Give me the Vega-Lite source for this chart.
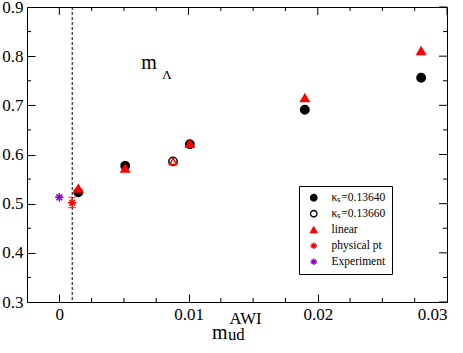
{
  "$schema": "https://vega.github.io/schema/vega-lite/v6.json",
  "width": 420,
  "height": 295,
  "autosize": {"type": "none"},
  "padding": {"left": 27, "top": 7, "right": 16, "bottom": 51},
  "background": "white",
  "config": {
    "view": {"stroke": "black", "strokeWidth": 1},
    "font": "Liberation Serif",
    "axis": {"grid": false, "domain": false, "labelFont": "Liberation Serif", "labelFontSize": 17, "labelColor": "black"}
  },
  "datasets": {
    "pts": [
      {"x": 0.00147, "y": 0.523, "series": "κₛ=0.13640"},
      {"x": 0.0051, "y": 0.577, "series": "κₛ=0.13640"},
      {"x": 0.0101, "y": 0.621, "series": "κₛ=0.13640"},
      {"x": 0.019, "y": 0.691, "series": "κₛ=0.13640"},
      {"x": 0.028, "y": 0.756, "series": "κₛ=0.13640"},
      {"x": 0.0088, "y": 0.586, "series": "κₛ=0.13660"},
      {"x": 0.00147, "y": 0.531, "series": "linear"},
      {"x": 0.0051, "y": 0.572, "series": "linear"},
      {"x": 0.0101, "y": 0.622, "series": "linear"},
      {"x": 0.019, "y": 0.715, "series": "linear"},
      {"x": 0.028, "y": 0.811, "series": "linear"},
      {"x": 0.001, "y": 0.502, "series": "physical pt"},
      {"x": 0.0, "y": 0.513, "series": "Experiment"}
    ],
    "phys": [{"x": 0.001, "lo": 0.492, "hi": 0.513}],
    "open": [{"x": 0.0088, "y": 0.586}],
    "xt": [
      {"v": 0, "e": 0.9, "e2": 0.88374}, {"v": 0.01, "e": 0.9, "e2": 0.88374}, {"v": 0.02, "e": 0.9, "e2": 0.88374}, {"v": 0.03, "e": 0.9, "e2": 0.88374},
      {"v": 0.0025, "e": 0.3, "e2": 0.30813}, {"v": 0.005, "e": 0.3, "e2": 0.30813}, {"v": 0.0075, "e": 0.3, "e2": 0.30813}, {"v": 0.0125, "e": 0.3, "e2": 0.30813}, {"v": 0.015, "e": 0.3, "e2": 0.30813}, {"v": 0.0175, "e": 0.3, "e2": 0.30813}, {"v": 0.0225, "e": 0.3, "e2": 0.30813}, {"v": 0.025, "e": 0.3, "e2": 0.30813}, {"v": 0.0275, "e": 0.3, "e2": 0.30813},
      {"v": 0.0025, "e": 0.9, "e2": 0.89187}, {"v": 0.005, "e": 0.9, "e2": 0.89187}, {"v": 0.0075, "e": 0.9, "e2": 0.89187}, {"v": 0.0125, "e": 0.9, "e2": 0.89187}, {"v": 0.015, "e": 0.9, "e2": 0.89187}, {"v": 0.0175, "e": 0.9, "e2": 0.89187}, {"v": 0.0225, "e": 0.9, "e2": 0.89187}, {"v": 0.025, "e": 0.9, "e2": 0.89187}, {"v": 0.0275, "e": 0.9, "e2": 0.89187}
    ],
    "yt": [
      {"v": 0.3, "e": 0.03, "e2": 0.029381}, {"v": 0.4, "e": 0.03, "e2": 0.029381}, {"v": 0.5, "e": 0.03, "e2": 0.029381}, {"v": 0.6, "e": 0.03, "e2": 0.029381}, {"v": 0.7, "e": 0.03, "e2": 0.029381}, {"v": 0.8, "e": 0.03, "e2": 0.029381}, {"v": 0.9, "e": 0.03, "e2": 0.029381},
      {"v": 0.35, "e": -0.0025, "e2": -0.00219}, {"v": 0.45, "e": -0.0025, "e2": -0.00219}, {"v": 0.55, "e": -0.0025, "e2": -0.00219}, {"v": 0.65, "e": -0.0025, "e2": -0.00219}, {"v": 0.75, "e": -0.0025, "e2": -0.00219}, {"v": 0.85, "e": -0.0025, "e2": -0.00219},
      {"v": 0.35, "e": 0.03, "e2": 0.02969}, {"v": 0.45, "e": 0.03, "e2": 0.02969}, {"v": 0.55, "e": 0.03, "e2": 0.02969}, {"v": 0.65, "e": 0.03, "e2": 0.02969}, {"v": 0.75, "e": 0.03, "e2": 0.02969}, {"v": 0.85, "e": 0.03, "e2": 0.02969}
    ],
    "ann": [
      {"x": 0.00634, "y": 0.7734, "t": "m", "size": "big"},
      {"x": 0.00794, "y": 0.753, "t": "Λ", "size": "small"},
      {"x": 0.01181, "y": 0.2246, "t": "m", "size": "big"},
      {"x": 0.01305, "y": 0.2222, "t": "ud", "size": "mid"},
      {"x": 0.01317, "y": 0.2545, "t": "AWI", "size": "mid"}
    ]
  },
  "resolve": {"axis": {"x": "independent", "y": "independent"}},
  "layer": [
    {
      "data": {"values": [{"x": 0.001}]},
      "mark": {"type": "rule", "strokeDash": [3, 2], "color": "black", "strokeWidth": 1},
      "encoding": {
        "x": {"field": "x", "type": "quantitative", "scale": {"domain": [-0.0025, 0.03], "nice": false, "zero": false}, "axis": null}
      }
    },
    {
      "data": {"name": "phys"},
      "mark": {"type": "errorbar", "ticks": {"size": 8}, "color": "red", "thickness": 1.2},
      "encoding": {
        "x": {"field": "x", "type": "quantitative", "scale": {"domain": [-0.0025, 0.03], "nice": false, "zero": false}, "axis": null},
        "y": {"field": "lo", "type": "quantitative", "scale": {"domain": [0.3, 0.9], "nice": false, "zero": false}, "axis": null},
        "y2": {"field": "hi"}
      }
    },
    {
      "data": {"name": "pts"},
      "mark": {"type": "point", "size": 70, "strokeWidth": 1.5, "opacity": 1},
      "encoding": {
        "x": {"field": "x", "type": "quantitative", "scale": {"domain": [-0.0025, 0.03], "nice": false, "zero": false},
              "axis": {"orient": "bottom", "title": null, "ticks": true, "tickSize": -8, "tickColor": "black", "tickWidth": 1, "values": [0, 0.01, 0.02, 0.03], "format": "~g", "labelPadding": 12, "labelFont": "Liberation Serif", "labelFontSize": 17, "labelColor": "black"}},
        "y": {"field": "y", "type": "quantitative", "scale": {"domain": [0.3, 0.9], "nice": false, "zero": false},
              "axis": {"orient": "left", "title": null, "ticks": true, "tickSize": -8, "tickColor": "black", "tickWidth": 1, "values": [0.3, 0.4, 0.5, 0.6, 0.7, 0.8, 0.9], "format": ".1f", "labelPadding": 12, "labelFont": "Liberation Serif", "labelFontSize": 17, "labelColor": "black"}},
        "shape": {"field": "series", "type": "nominal",
                  "scale": {"domain": ["κₛ=0.13640", "κₛ=0.13660", "linear", "physical pt", "Experiment"],
                            "range": ["circle", "circle", "triangle-up", "M0,-1L0,1M-1,0L1,0M-0.7,-0.7L0.7,0.7M-0.7,0.7L0.7,-0.7", "M0,-1L0,1M-1,0L1,0M-0.7,-0.7L0.7,0.7M-0.7,0.7L0.7,-0.7"]},
                  "legend": {"title": null, "orient": "none", "legendX": 272, "legendY": 179, "strokeColor": "black", "fillColor": "white", "padding": 6, "rowPadding": 3, "labelFont": "Liberation Serif", "labelFontSize": 11.5, "labelColor": "black", "symbolSize": 42, "symbolStrokeWidth": 1.3, "labelOffset": 12, "symbolOffset": 3, "cornerRadius": 0}},
        "fill": {"field": "series", "type": "nominal",
                 "scale": {"domain": ["κₛ=0.13640", "κₛ=0.13660", "linear", "physical pt", "Experiment"],
                           "range": ["black", "white", "red", "red", "#9400d3"]}},
        "stroke": {"field": "series", "type": "nominal",
                   "scale": {"domain": ["κₛ=0.13640", "κₛ=0.13660", "linear", "physical pt", "Experiment"],
                             "range": ["black", "black", "red", "red", "#9400d3"]}}
      }
    },
    {
      "data": {"name": "open"},
      "mark": {"type": "point", "shape": "triangle-up", "size": 50, "strokeWidth": 1.5, "stroke": "red", "fill": "white", "opacity": 1},
      "encoding": {
        "x": {"field": "x", "type": "quantitative", "scale": {"domain": [-0.0025, 0.03], "nice": false, "zero": false}, "axis": null},
        "y": {"field": "y", "type": "quantitative", "scale": {"domain": [0.3, 0.9], "nice": false, "zero": false}, "axis": null}
      }
    },
    {
      "data": {"name": "ann"},
      "mark": {"type": "text", "font": "Liberation Serif", "baseline": "alphabetic", "align": "left", "color": "black"},
      "encoding": {
        "x": {"field": "x", "type": "quantitative", "scale": {"domain": [-0.0025, 0.03], "nice": false, "zero": false}, "axis": null},
        "y": {"field": "y", "type": "quantitative", "scale": {"domain": [0.3, 0.9], "nice": false, "zero": false}, "axis": null},
        "text": {"field": "t"},
        "size": {"field": "size", "type": "nominal", "scale": {"domain": ["big", "mid", "small"], "range": [20, 13.5, 11]}, "legend": null}
      }
    },
    {
      "data": {"name": "xt"},
      "mark": {"type": "rule", "color": "black", "strokeWidth": 1},
      "encoding": {
        "x": {"field": "v", "type": "quantitative", "scale": {"domain": [-0.0025, 0.03], "nice": false, "zero": false}, "axis": null},
        "y": {"field": "e", "type": "quantitative", "scale": {"domain": [0.3, 0.9], "nice": false, "zero": false}, "axis": null},
        "y2": {"field": "e2"}
      }
    },
    {
      "data": {"name": "yt"},
      "mark": {"type": "rule", "color": "black", "strokeWidth": 1},
      "encoding": {
        "y": {"field": "v", "type": "quantitative", "scale": {"domain": [0.3, 0.9], "nice": false, "zero": false}, "axis": null},
        "x": {"field": "e", "type": "quantitative", "scale": {"domain": [-0.0025, 0.03], "nice": false, "zero": false}, "axis": null},
        "x2": {"field": "e2"}
      }
    }
  ]
}
